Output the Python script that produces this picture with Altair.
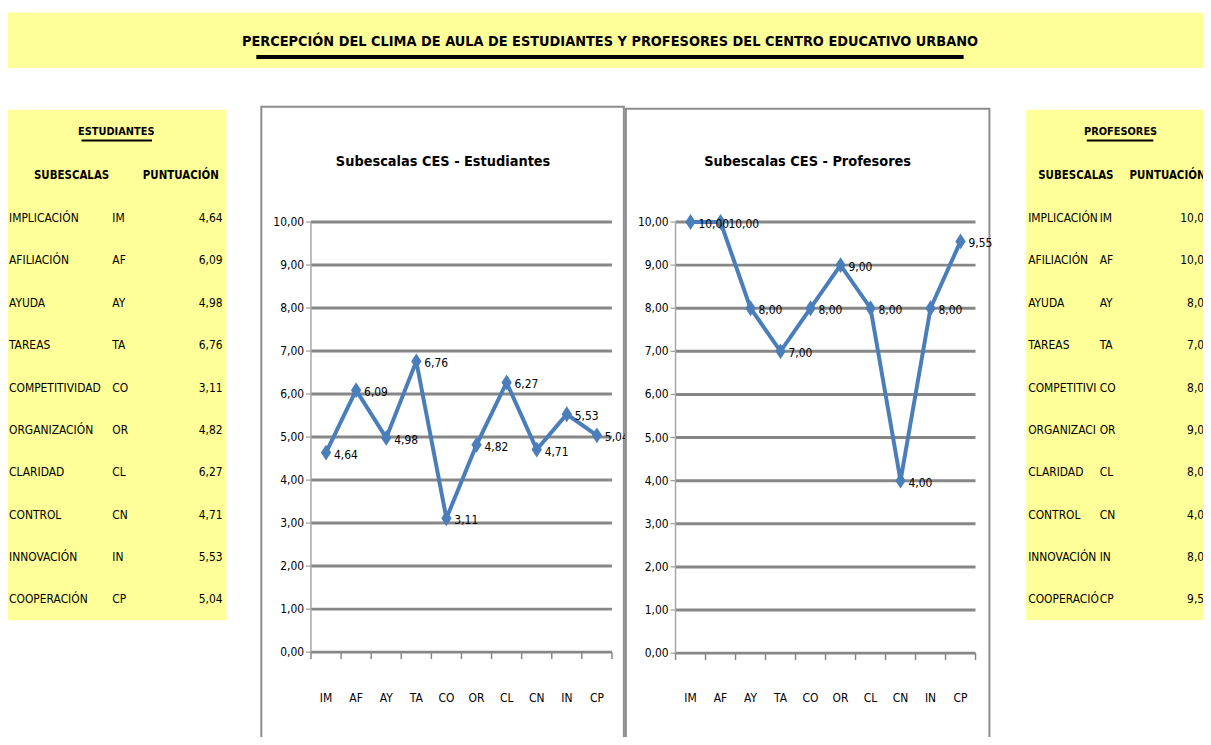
import altair as alt
import pandas as pd

# ---------------- data ----------------
codes = ["IM", "AF", "AY", "TA", "CO", "OR", "CL", "CN", "IN", "CP"]
names = ["IMPLICACIÓN", "AFILIACIÓN", "AYUDA", "TAREAS", "COMPETITIVIDAD",
         "ORGANIZACIÓN", "CLARIDAD", "CONTROL", "INNOVACIÓN", "COOPERACIÓN"]
estudiantes = [4.64, 6.09, 4.98, 6.76, 3.11, 4.82, 6.27, 4.71, 5.53, 5.04]
profesores = [10.00, 10.00, 8.00, 7.00, 8.00, 9.00, 8.00, 4.00, 8.00, 9.55]
y_ticks = [0, 1, 2, 3, 4, 5, 6, 7, 8, 9, 10]
boundaries = list(range(len(codes) + 1))

main_title = "PERCEPCIÓN DEL CLIMA DE AULA DE ESTUDIANTES Y PROFESORES DEL CENTRO EDUCATIVO URBANO"
title_est = "Subescalas CES - Estudiantes"
title_prof = "Subescalas CES - Profesores"

df = pd.DataFrame({"code": codes, "name": names, "est": estudiantes, "prof": profesores})
ticks_df = pd.DataFrame({"v": y_ticks})
bnd_df = pd.DataFrame({"b": boundaries})

FONT = "DejaVu Sans Condensed, Liberation Sans Narrow, sans-serif"
YELLOW = "#ffff99"
BLUE = "#4a7ebb"
GRID = "#878787"
FRAME = "#8c8c8c"
W, H = 1203, 729
comma = "replace(format(datum.{f}, '.2f'), '.', ',')"

one = pd.DataFrame({"k": [0]})


def box(x, x2, y, y2, fill, stroke=None, sw=0):
    kw = dict(fill=fill)
    if stroke:
        kw.update(stroke=stroke, strokeWidth=sw)
    return alt.Chart(one).mark_rect(**kw).encode(
        x=alt.value(x), x2=alt.value(x2), y=alt.value(y), y2=alt.value(y2))


def hline(x, x2, y, color, sw):
    return alt.Chart(one).mark_rule(color=color, strokeWidth=sw).encode(
        x=alt.value(x), x2=alt.value(x2), y=alt.value(y))


def label(text, x, y, size, bold=False, align="center", color="black"):
    return alt.Chart(one).mark_text(
        text=text, font=FONT, fontSize=size, fontWeight="bold" if bold else "normal",
        align=align, baseline="middle", color=color).encode(x=alt.value(x), y=alt.value(y))


def line_chart(field, xr, yr, ylab_x, title, title_x, frame):
    xs = alt.Scale(type="point", domain=codes, range=xr, padding=0.5)
    ys = alt.Scale(domain=[0, 10], range=yr, nice=False, zero=False)
    bs = alt.Scale(domain=[0, len(codes)], range=xr, nice=False, zero=False)
    X = lambda: alt.X("code:N", scale=xs, sort=codes, axis=None)
    Y = lambda f: alt.Y(f, scale=ys, axis=None)
    parts = [
        box(*frame, fill="white", stroke=FRAME, sw=2),
        label(title, title_x, 153, 14.5, bold=True),
        alt.Chart(ticks_df).mark_rule(color=GRID, strokeWidth=3).encode(
            y=Y("v:Q"), x=alt.value(xr[0]), x2=alt.value(xr[1])),
        alt.Chart(ticks_df).mark_rule(color=GRID, strokeWidth=1).encode(
            y=Y("v:Q"), x=alt.value(xr[0] - 5), x2=alt.value(xr[0])),
        alt.Chart(one).mark_rule(color="#a6a6a6", strokeWidth=1.5).encode(
            x=alt.value(xr[0]), y=alt.value(yr[1]), y2=alt.value(yr[0])),
        alt.Chart(bnd_df).mark_rule(color=GRID, strokeWidth=1.5).encode(
            x=alt.X("b:Q", scale=bs, axis=None), y=alt.value(yr[0]), y2=alt.value(yr[0] + 7)),
        alt.Chart(ticks_df).transform_calculate(lab=comma.format(f="v")).mark_text(
            font=FONT, fontSize=12, align="right", baseline="middle", color="black").encode(
            y=Y("v:Q"), x=alt.value(ylab_x), text="lab:N"),
        alt.Chart(df).mark_text(font=FONT, fontSize=12, baseline="middle", color="black").encode(
            x=X(), y=alt.value(692), text="code:N"),
        alt.Chart(df).mark_line(color=BLUE, strokeWidth=4).encode(
            x=X(), y=Y(f"{field}:Q")),
        alt.Chart(df).mark_point(shape="M0,-1.3L0.85,0L0,1.3L-0.85,0Z", size=150, filled=True,
                                 color=BLUE, opacity=1).encode(
            x=X(), y=Y(f"{field}:Q")),
        alt.Chart(df).transform_calculate(lab=comma.format(f=field)).mark_text(
            font=FONT, fontSize=12, align="left", baseline="middle", dx=8, dy=2,
            color="black").encode(
            x=X(), y=Y(f"{field}:Q"), text="lab:N"),
    ]
    return parts


def table(field, x0, x1, head_x, sub_x, sub_align, punt_x, punt_align, under, name_x,
          code_x, val_x, name_limit=None):
    ts = alt.Scale(type="point", domain=codes, range=[209, 593], padding=0)
    T = lambda: alt.Y("code:N", scale=ts, sort=codes, axis=None)
    name_kw = dict(font=FONT, fontSize=12, align="left", baseline="middle", color="black")
    if name_limit:
        name_kw.update(limit=name_limit, ellipsis="\u200b")
    parts = [
        box(x0, x1, 100, 614, fill=YELLOW),
        label("ESTUDIANTES" if field == "est" else "PROFESORES", head_x, 122, 11, bold=True),
        hline(under[0], under[1], 131, "black", 2),
        label("SUBESCALAS", sub_x, 167, 11.5, bold=True, align=sub_align),
        label("PUNTUACIÓN", punt_x, 167, 11.5, bold=True, align=punt_align),
        alt.Chart(df).mark_text(**name_kw).encode(
            y=T(), x=alt.value(name_x), text="name:N"),
        alt.Chart(df).mark_text(font=FONT, fontSize=12, align="left", baseline="middle",
                                color="black").encode(
            y=T(), x=alt.value(code_x), text="code:N"),
        alt.Chart(df).transform_calculate(lab=comma.format(f=field)).mark_text(
            font=FONT, fontSize=12, align="right", baseline="middle", color="black").encode(
            y=T(), x=alt.value(val_x), text="lab:N"),
    ]
    return parts


layers = [
    box(0, W, 2, 58, fill=YELLOW),
    label(main_title, 606, 32, 14.5, bold=True),
    hline(250, 962, 47, "black", 4),
]
layers += table("est", 0, 220, 109, 64, "center", 174, "center", (74, 145), 1, 105, 216)
layers += table("prof", 1025, W, 1120, 1075, "center", 1129, "left", (1086, 1153), 1027,
                1211, name_limit=72) if False else \
    table("prof", 1025, W, 1120, 1075, "center", 1129, "left", (1086, 1153), 1027,
          1099, 1211, name_limit=72)
layers += line_chart("est", [305, 608], [646, 213], 298, title_est, 438,
                     (255, 620, 97, 740))
layers += line_chart("prof", [672, 974], [647, 213], 665, title_prof, 805,
                     (622, 988, 99, 740))

chart = alt.layer(*layers).properties(
    width=W, height=H, padding=0,
    autosize=alt.AutoSizeParams(type="none"),
).resolve_scale(x="independent", y="independent").configure_view(stroke=None)

chart.save("out.html", embed_options={"renderer": "svg", "actions": False})
